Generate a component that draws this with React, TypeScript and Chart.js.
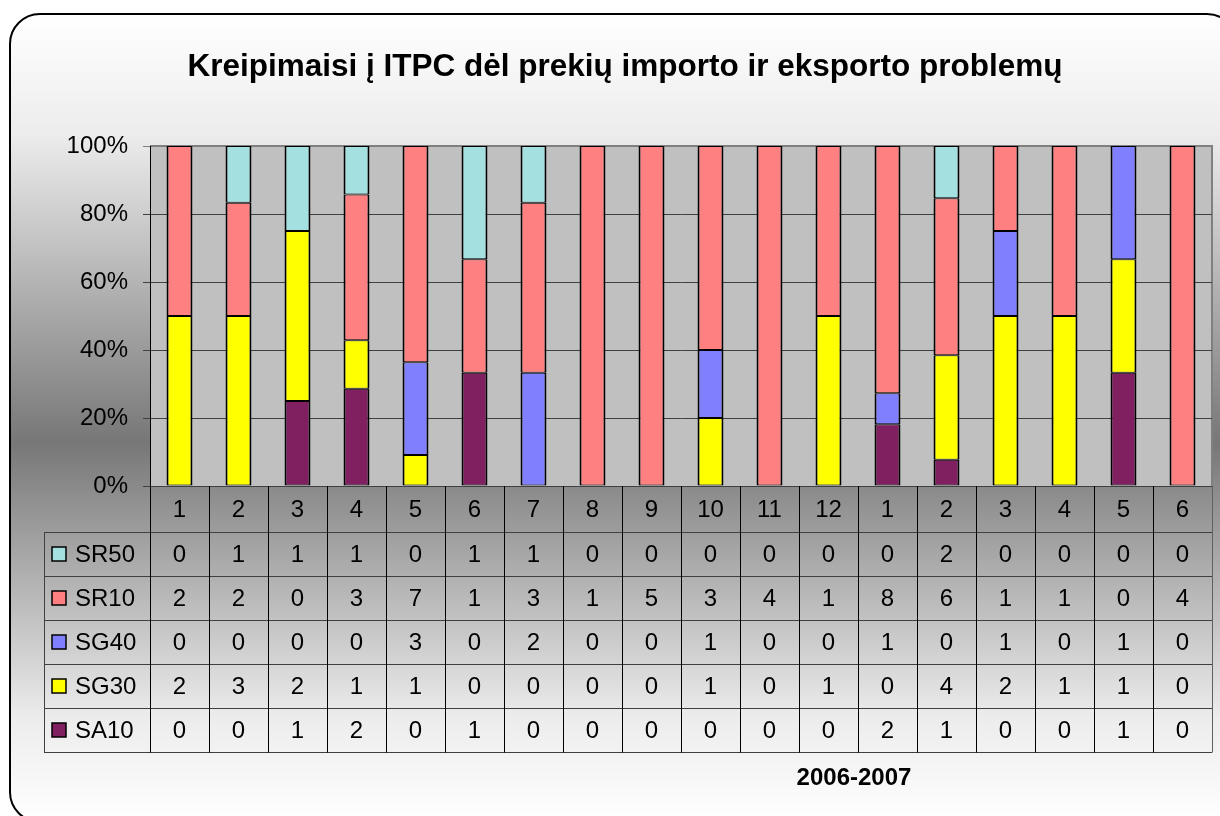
import React, { useEffect, useRef } from 'react';
import { Chart, registerables } from 'chart.js';

Chart.register(...registerables);

// ---- data ----
const months = ['1', '2', '3', '4', '5', '6', '7', '8', '9', '10', '11', '12', '1', '2', '3', '4', '5', '6'];
const SR50 = [0, 1, 1, 1, 0, 1, 1, 0, 0, 0, 0, 0, 0, 2, 0, 0, 0, 0];
const SR10 = [2, 2, 0, 3, 7, 1, 3, 1, 5, 3, 4, 1, 8, 6, 1, 1, 0, 4];
const SG40 = [0, 0, 0, 0, 3, 0, 2, 0, 0, 1, 0, 0, 1, 0, 1, 0, 1, 0];
const SG30 = [2, 3, 2, 1, 1, 0, 0, 0, 0, 1, 0, 1, 0, 4, 2, 1, 1, 0];
const SA10 = [0, 0, 1, 2, 0, 1, 0, 0, 0, 0, 0, 0, 2, 1, 0, 0, 1, 0];
const yTickValues = [0, 20, 40, 60, 80, 100];
const chartTitle = 'Kreipimaisi į ITPC dėl prekių importo ir eksporto problemų';
const xTitle = '2006-2007';

// series, bottom of stack first
const seriesNames = ['SA10', 'SG30', 'SG40', 'SR10', 'SR50'];
const seriesValues = [SA10, SG30, SG40, SR10, SR50];
const seriesColors = ['#802060', '#FFFF00', '#8080FF', '#FF8080', '#A4E0E0'];

const FONT = "'Liberation Sans', Arial, Helvetica, sans-serif";

const totals = months.map((_, i) => seriesValues.reduce((s, arr) => s + arr[i], 0));

const decorPlugin = {
  id: 'decor',
  beforeDraw(chart: any) {
    const ctx = chart.ctx as CanvasRenderingContext2D;
    const ca = chart.chartArea;
    ctx.save();
    // outer rounded box with vertical gradient
    const bx = 10, by = 14, bw = 1227, bh = 808, r = 30;
    const g = ctx.createLinearGradient(0, by, 0, by + bh);
    g.addColorStop(0, '#ffffff');
    g.addColorStop(0.15, '#ececec');
    g.addColorStop(0.53, '#777777');
    g.addColorStop(0.87, '#ececec');
    g.addColorStop(1, '#ffffff');
    ctx.beginPath();
    ctx.moveTo(bx + r, by);
    ctx.lineTo(bx + bw - r, by);
    ctx.arcTo(bx + bw, by, bx + bw, by + r, r);
    ctx.lineTo(bx + bw, by + bh - r);
    ctx.arcTo(bx + bw, by + bh, bx + bw - r, by + bh, r);
    ctx.lineTo(bx + r, by + bh);
    ctx.arcTo(bx, by + bh, bx, by + bh - r, r);
    ctx.lineTo(bx, by + r);
    ctx.arcTo(bx, by, bx + r, by, r);
    ctx.closePath();
    ctx.fillStyle = g;
    ctx.fill();
    ctx.lineWidth = 2;
    ctx.strokeStyle = '#000000';
    ctx.stroke();
    // plot area
    ctx.fillStyle = '#C0C0C0';
    ctx.fillRect(ca.left, ca.top, ca.right - ca.left, ca.bottom - ca.top);
    ctx.strokeStyle = '#808080';
    ctx.lineWidth = 2;
    ctx.beginPath();
    ctx.moveTo(ca.left, ca.top);
    ctx.lineTo(ca.right, ca.top);
    ctx.lineTo(ca.right, ca.bottom);
    ctx.stroke();
    ctx.restore();
  },
  afterDraw(chart: any) {
    const ctx = chart.ctx as CanvasRenderingContext2D;
    const ca = chart.chartArea;
    const n = months.length;
    const colW = (ca.right - ca.left) / n;
    const rowsY = [ca.bottom, 532, 576, 620, 664, 708, 752];
    const labelLeft = 44;
    ctx.save();

    // title
    ctx.fillStyle = '#000';
    ctx.textAlign = 'center';
    ctx.textBaseline = 'middle';
    ctx.font = `bold 31.5px ${FONT}`;
    ctx.fillText(chartTitle, 625, 67);

    // x title
    ctx.font = `bold 24px ${FONT}`;
    ctx.fillText(xTitle, 854, 778);

    // horizontal lines of table
    ctx.lineWidth = 1;
    ctx.strokeStyle = '#404040';
    for (let i = 1; i < rowsY.length; i++) {
      const y = Math.round(rowsY[i]) + 0.5;
      ctx.beginPath();
      ctx.moveTo(labelLeft, y);
      ctx.lineTo(ca.right, y);
      ctx.stroke();
    }
    // left border of label column
    ctx.beginPath();
    ctx.moveTo(labelLeft + 0.5, rowsY[1]);
    ctx.lineTo(labelLeft + 0.5, rowsY[rowsY.length - 1]);
    ctx.stroke();
    // vertical lines
    for (let i = 0; i <= n; i++) {
      const x = Math.round(ca.left + i * colW) + 0.5;
      ctx.strokeStyle = i === n ? '#606060' : '#000000';
      ctx.beginPath();
      ctx.moveTo(x, ca.bottom);
      ctx.lineTo(x, rowsY[rowsY.length - 1] + 0.5);
      ctx.stroke();
    }

    // header texts
    ctx.font = `24px ${FONT}`;
    ctx.fillStyle = '#000';
    ctx.textAlign = 'center';
    const xs = chart.scales.x;
    months.forEach((m, i) => {
      ctx.fillText(m, xs.getPixelForValue(i), (rowsY[0] + rowsY[1]) / 2 + 1);
    });

    // data rows (top row = top of stack)
    const order = [4, 3, 2, 1, 0];
    order.forEach((si, r) => {
      const yc = (rowsY[r + 1] + rowsY[r + 2]) / 2 + 1;
      // legend swatch
      ctx.fillStyle = seriesColors[si];
      ctx.fillRect(52, Math.round(yc - 8), 14, 14);
      ctx.strokeStyle = '#000';
      ctx.lineWidth = 1.5;
      ctx.strokeRect(52, Math.round(yc - 8), 14, 14);
      ctx.fillStyle = '#000';
      ctx.textAlign = 'left';
      ctx.fillText(seriesNames[si], 75, yc);
      ctx.textAlign = 'center';
      seriesValues[si].forEach((v, i) => {
        ctx.fillText(String(v), xs.getPixelForValue(i), yc);
      });
    });
    ctx.restore();
  },
};

export default function App() {
  const ref = useRef<HTMLCanvasElement | null>(null);
  useEffect(() => {
    if (!ref.current) return;
    const chart = new Chart(ref.current, {
      type: 'bar',
      data: {
        labels: months,
        datasets: seriesNames.map((name, si) => ({
          label: name,
          data: seriesValues[si].map((v, i) => (v === 0 ? null : (v / totals[i]) * 100)),
          backgroundColor: seriesColors[si],
          borderColor: '#000000',
          borderWidth: { top: 1, bottom: 1, left: 2, right: 2 },
          borderSkipped: false,
          inflateAmount: 0,
          barPercentage: 0.44,
          categoryPercentage: 1,
        })),
      },
      options: {
        responsive: false,
        animation: false,
        devicePixelRatio: 1,
        layout: { padding: { left: 0, top: 146, right: 8, bottom: 330 } },
        plugins: {
          legend: { display: false },
          tooltip: { enabled: false },
          title: { display: false },
        },
        scales: {
          x: {
            stacked: true,
            display: false,
          },
          y: {
            stacked: true,
            min: 0,
            max: 100,
            afterFit: (s: any) => {
              s.width = 150;
            },
            afterBuildTicks: (s: any) => {
              s.ticks = yTickValues.map((v) => ({ value: v }));
            },
            ticks: {
              callback: (v: any) => `${v}%`,
              color: '#000',
              font: { family: FONT, size: 24 },
              padding: 15,
            },
            grid: {
              color: (c: any) => (c.tick && c.tick.value === 100 ? '#808080' : '#404040'),
              lineWidth: 1,
              tickLength: 7,
              drawTicks: true,
            },
            border: { color: '#000', width: 1 },
          },
        },
      },
      plugins: [decorPlugin],
    });
    return () => chart.destroy();
  }, []);
  return (
    <div style={{ position: 'absolute', left: 0, top: 0, width: 1220, height: 816 }}>
      <canvas ref={ref} width={1220} height={816} style={{ display: 'block' }} />
    </div>
  );
}
